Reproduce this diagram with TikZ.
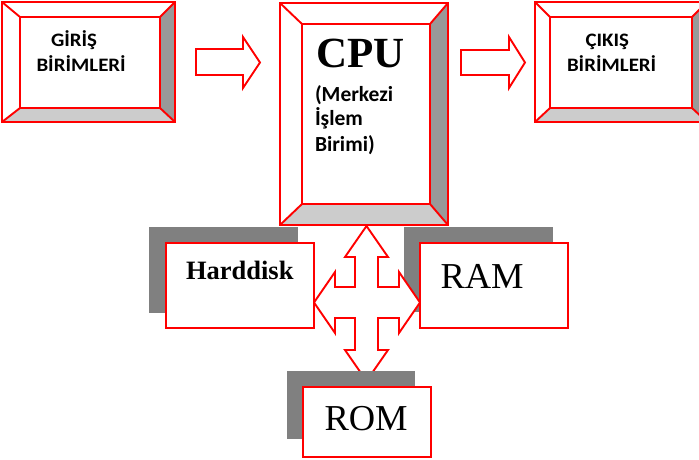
\documentclass[tikz,border=0pt]{standalone}
\usepackage{graphicx}
\usepackage{fontspec}
\setmainfont{Liberation Serif}
\newfontfamily\calib{Carlito}
\definecolor{bevR}{RGB}{153,153,153}
\definecolor{bevB}{RGB}{204,204,204}
\definecolor{shade}{RGB}{128,128,128}
\definecolor{lred}{RGB}{255,0,0}
\tikzset{
  redline/.style={draw=lred, line width=1.9pt, line join=miter},
  blockarrow/.style={fill=white, draw=lred, line width=1.9pt, line join=miter},
  plainbox/.style={fill=white, draw=lred, line width=1.9pt},
  shadowbox/.style={fill=shade},
  lbl/.style={anchor=base west, inner sep=0pt, outer sep=0pt},
}
\newcommand\bevbox[8]{%
  \fill[white] (#1,#2) rectangle (#3,#4);
  \fill[bevR] (#3,#2) -- (#7,#6) -- (#7,#8) -- (#3,#4) -- cycle;
  \fill[bevB] (#1,#4) -- (#5,#8) -- (#7,#8) -- (#3,#4) -- cycle;
  \draw[redline] (#1,#2) rectangle (#3,#4) (#5,#6) rectangle (#7,#8)
    (#1,#2) -- (#5,#6) (#3,#2) -- (#7,#6) (#3,#4) -- (#7,#8) (#1,#4) -- (#5,#8);
}
\newcommand\trk[1]{\calib\bfseries\fontsize{19}{22}\selectfont\scalebox{1.1}[1]{#1}}
\newcommand\cpusub[1]{\calib\bfseries\fontsize{21.5}{25}\selectfont #1}
\begin{document}
\begin{tikzpicture}[x=1pt,y=-1pt]
\useasboundingbox (0,0) rectangle (699,460);
\clip (0,0) rectangle (699,460);
% bevelled boxes
\bevbox{2}{2}{175}{122}{20}{17}{160}{108}
\bevbox{280}{3}{448}{225}{302}{24}{430}{204}
\bevbox{535}{2}{707}{122}{550}{17}{692}{108}
% block arrows
\draw[blockarrow] (196,49) -- (243,49) -- (243,37) -- (260,62.5) -- (243,88) -- (243,75) -- (196,75) -- cycle;
\draw[blockarrow] (461,50) -- (509,50) -- (509,37) -- (525,62.5) -- (509,88) -- (509,75) -- (461,75) -- cycle;
% shadows
\fill[shadowbox] (149,227) rectangle (298,313);
\fill[shadowbox] (404,227) rectangle (553,312);
% cross arrow
\draw[blockarrow] (366.5,226) -- (388,257) -- (378,257) -- (378,287) -- (399,287) -- (399,272)
  -- (420,302.5) -- (399,333) -- (399,318) -- (378,318) -- (378,350) -- (388,350)
  -- (366.5,381) -- (345,350) -- (355,350) -- (355,318) -- (335,318) -- (335,333)
  -- (314,302.5) -- (335,272) -- (335,287) -- (355,287) -- (355,257) -- (345,257) -- cycle;
\fill[shadowbox] (287,371) rectangle (415,439);
% plain boxes
\path[plainbox] (166,243) rectangle (314,328);
\path[plainbox] (420,243) rectangle (568,328);
\path[plainbox] (303,387) rectangle (431,457);
% labels
\node[lbl] (g1) at (51,46.7) {\trk{GİRİŞ}};
\node[lbl] (g2) at (36.5,71.7) {\trk{BİRİMLERİ}};
\node[lbl] (c1) at (585.5,46.7) {\trk{ÇIKIŞ}};
\node[lbl] (c2) at (567,71.7) {\trk{BİRİMLERİ}};
\node[lbl] (cpu) at (316,68) {\bfseries\fontsize{43}{46}\selectfont CPU};
\node[lbl] (cs1) at (315,101) {\cpusub{(Merkezi}};
\node[lbl] (cs2) at (315,125) {\cpusub{İşlem}};
\node[lbl] (cs3) at (315,151) {\cpusub{Birimi)}};
\node[lbl] (hd) at (186,279) {\bfseries\fontsize{26.5}{30}\selectfont Harddisk};
\node[lbl] (ram) at (440.5,288) {\fontsize{36.5}{40}\selectfont RAM};
\node[lbl] (rom) at (324.5,430) {\fontsize{36.5}{40}\selectfont ROM};
\end{tikzpicture}
\end{document}
